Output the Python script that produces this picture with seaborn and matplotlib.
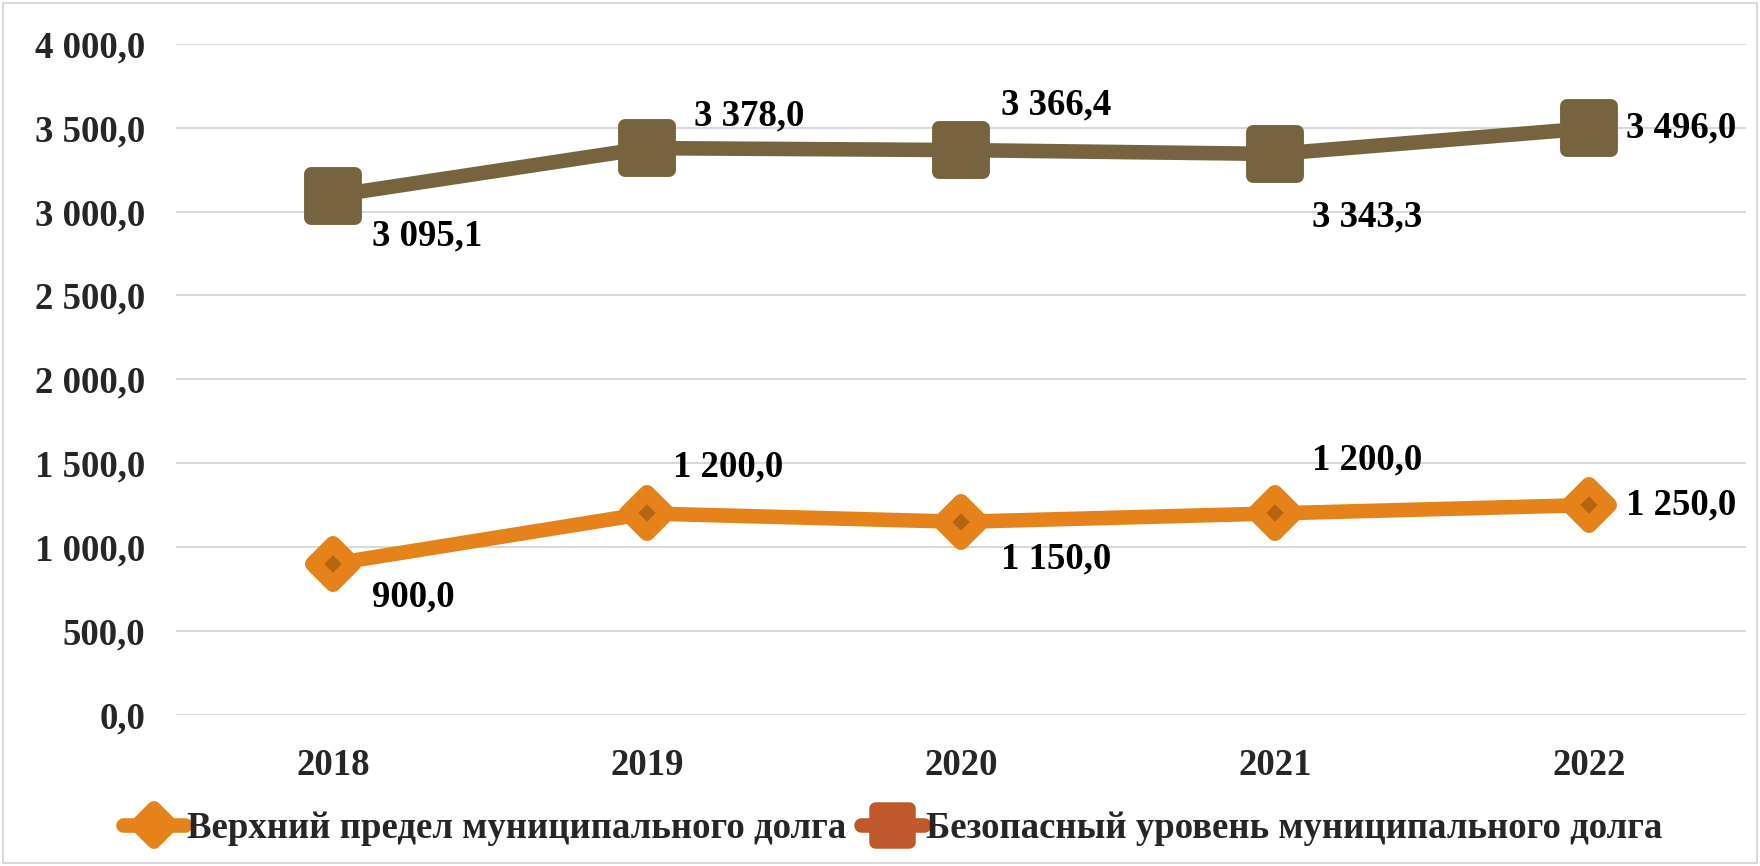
import matplotlib
matplotlib.use("Agg")
import matplotlib.pyplot as plt
from matplotlib.lines import Line2D
from matplotlib.patches import Rectangle
from matplotlib.markers import MarkerStyle
import seaborn as sns
import pandas as pd

years = ["2018", "2019", "2020", "2021", "2022"]
upper_limit = [900.0, 1200.0, 1150.0, 1200.0, 1250.0]
safe_level = [3095.1, 3378.0, 3366.4, 3343.3, 3496.0]
series_names = ["Верхний предел муниципального долга",
                "Безопасный уровень муниципального долга"]
y_ticks = [0, 500, 1000, 1500, 2000, 2500, 3000, 3500, 4000]

# label offsets in pixels (dx, dy)
off_upper = [(39, -33), (26, 46), (40, -37), (37, 53), (37, 0)]
off_safe = [(39, -40), (47, 32), (40, 45), (37, -63), (37, 0)]

ORANGE = "#E5831A"
ORANGE_DARK = "#B3650F"
BROWN = "#77643F"
LEG_RED = "#C0582C"

sns.set_theme(style="white")
plt.rcParams["font.family"] = ["Liberation Serif", "DejaVu Serif"]
plt.rcParams["font.weight"] = "bold"
FS = 26.5

def fmt(v):
    s = f"{v:,.1f}".replace(",", " ").replace(".", ",")
    return s

SQ = MarkerStyle("s", joinstyle="round")
DM = MarkerStyle("D", joinstyle="round")

fig = plt.figure(figsize=(17.6, 8.66), dpi=100)
ax = fig.add_axes([176 / 1760, 1 - 714.7 / 866, 1570 / 1760, 670.9 / 866])

x = list(range(len(years)))
df = pd.DataFrame({"x": x + x,
                   "y": upper_limit + safe_level,
                   "s": [series_names[0]] * 5 + [series_names[1]] * 5})

sns.lineplot(data=df[df.s == series_names[1]], x="x", y="y", ax=ax,
             color=BROWN, lw=10.5, marker=SQ, markersize=31,
             markerfacecolor=BROWN, markeredgecolor=BROWN, markeredgewidth=10,
             solid_joinstyle="round", legend=False, zorder=3)
sns.lineplot(data=df[df.s == series_names[0]], x="x", y="y", ax=ax,
             color=ORANGE, lw=10.5, marker=DM, markersize=20,
             markerfacecolor=ORANGE_DARK, markeredgecolor=ORANGE, markeredgewidth=11.5,
             solid_joinstyle="round", legend=False, zorder=3)

for vals, offs in ((upper_limit, off_upper), (safe_level, off_safe)):
    for i, (v, (dx, dy)) in enumerate(zip(vals, offs)):
        ax.annotate(fmt(v), (i, v), xytext=(dx, dy), textcoords="offset pixels",
                    ha="left", va="center", fontsize=FS, fontweight="bold",
                    color="black", zorder=5)

ax.set_xlim(-0.5, len(years) - 0.5)
ax.set_ylim(0, 4000)
ax.set_yticks(y_ticks)
ax.set_yticklabels([fmt(v) for v in y_ticks], fontsize=FS, fontweight="bold")
ax.set_xticks(x)
ax.set_xticklabels(years, fontsize=FS, fontweight="bold")
ax.tick_params(axis="y", length=0, pad=22)
ax.tick_params(axis="x", length=0, pad=24)
ax.set_xlabel("")
ax.set_ylabel("")
ax.grid(axis="y", color="#D9D9D9", lw=1.5)
ax.grid(axis="x", visible=False)
for sp in ax.spines.values():
    sp.set_visible(False)
ax.set_facecolor("white")

handles = [
    Line2D([], [], color=ORANGE, lw=10.5, marker=DM, markersize=17,
           markerfacecolor=ORANGE, markeredgecolor=ORANGE, markeredgewidth=10),
    Line2D([], [], color=LEG_RED, lw=10.5, marker=SQ, markersize=25,
           markerfacecolor=LEG_RED, markeredgecolor=LEG_RED, markeredgewidth=9),
]
fig.legend(handles, series_names, loc="center", bbox_to_anchor=(0.507, 1 - 828 / 866),
           ncol=2, frameon=False, handlelength=1.7, handletextpad=0.05,
           columnspacing=0.4, prop={"size": FS, "weight": "bold",
                                     "family": ["Liberation Serif", "DejaVu Serif"]})

fig.add_artist(Rectangle((3 / 1760, 3 / 866), 1 - 6 / 1760, 1 - 6 / 866,
                         transform=fig.transFigure, fill=False,
                         edgecolor="#D9D9D9", lw=1.5))

fig.savefig("out.png", dpi=100, facecolor="white")
